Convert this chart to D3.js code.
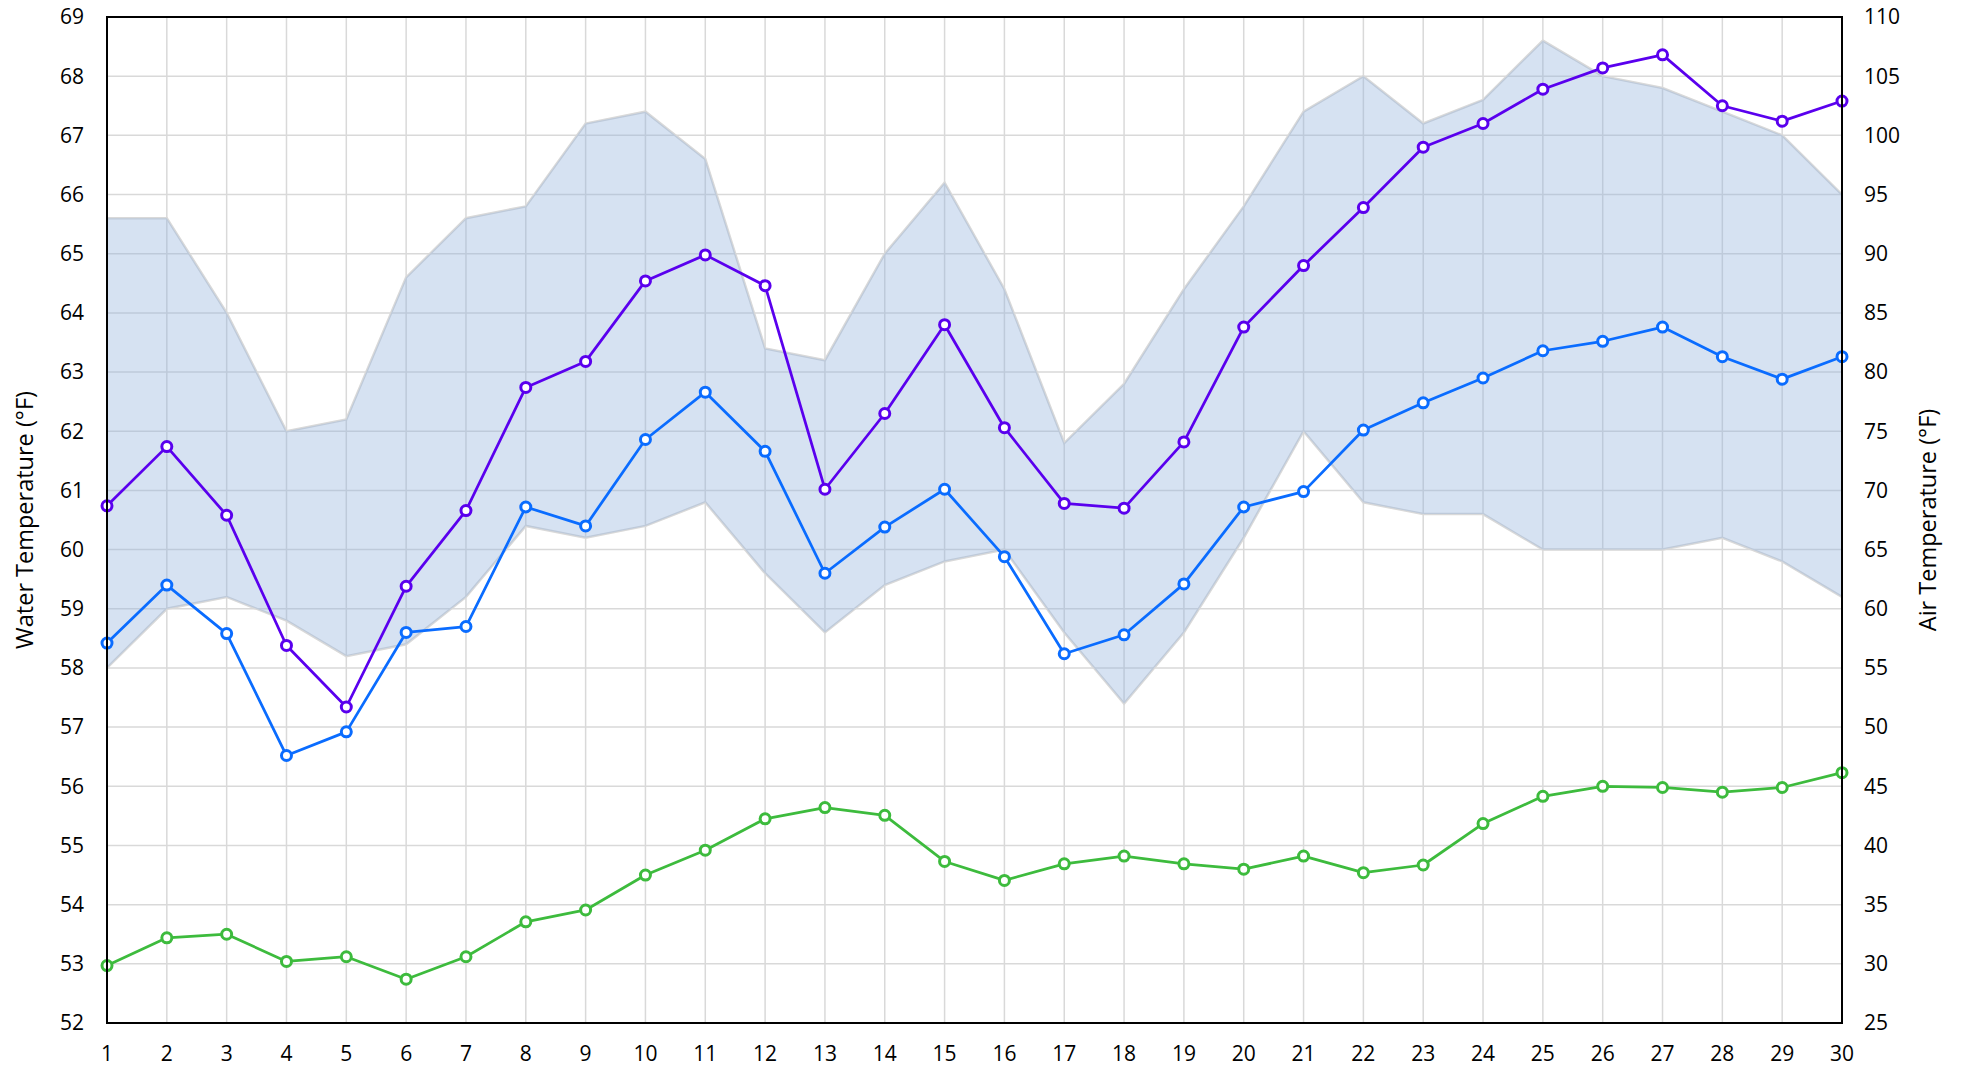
<!DOCTYPE html>
<html>
<head>
<meta charset="utf-8">
<script src="https://cdn.jsdelivr.net/npm/d3@7"></script>
<style>
  html, body { margin: 0; padding: 0; background: #fff; }
  svg text { font-family: "Open Sans", "Noto Sans", sans-serif; fill: #000; }
</style>
</head>
<body>
<div id="chart"></div>
<script>
// day of month
const days = d3.range(1, 31)

// water temperature (left axis, °F)
const waterTemp = [52.97, 53.44, 53.50, 53.04, 53.12, 52.74, 53.12, 53.71, 53.91, 54.50,
  54.92, 55.45, 55.64, 55.51, 54.73, 54.41, 54.69, 54.82, 54.69, 54.60,
  54.82, 54.54, 54.67, 55.37, 55.83, 56.00, 55.98, 55.90, 55.98, 56.23]

// air temperature series (right axis, °F)
const airHigh = [68.7, 73.7, 67.9, 56.9, 51.7, 61.9, 68.3, 78.7, 80.9, 87.7,
  89.9, 87.3, 70.1, 76.5, 84.0, 75.3, 68.9, 68.5, 74.1, 83.8,
  89.0, 93.9, 99.0, 101.0, 103.9, 105.7, 106.8, 102.5, 101.2, 102.9]
const airLow = [57.1, 62.0, 57.9, 47.6, 49.6, 58.0, 58.5, 68.6, 67.0, 74.3,
  78.3, 73.3, 63.0, 66.9, 70.1, 64.4, 56.2, 57.8, 62.1, 68.6,
  69.9, 75.1, 77.4, 79.5, 81.8, 82.6, 83.8, 81.3, 79.4, 81.3]
const rangeMax = [93, 93, 85, 75, 76, 88, 93, 94, 101, 102,
  98, 82, 81, 90, 96, 87, 74, 79, 87, 94,
  102, 105, 101, 103, 108, 105, 104, 102, 100, 95]
const rangeMin = [55, 60, 61, 59, 56, 57, 61, 67, 66, 67,
  69, 63, 58, 62, 64, 65, 58, 52, 58, 66,
  75, 69, 68, 68, 65, 65, 65, 66, 64, 61]

const leftTicks = d3.range(52, 70)
const rightTicks = d3.range(25, 111, 5)

const width = 1963, height = 1067
const margin = { top: 17, right: 121, bottom: 44, left: 107 }
const innerW = width - margin.left - margin.right
const innerH = height - margin.top - margin.bottom

const x = d3.scaleLinear().domain([1, 30]).range([0, innerW])
const yL = d3.scaleLinear().domain([52, 69]).range([innerH, 0])
const yR = d3.scaleLinear().domain([25, 110]).range([innerH, 0])

const svg = d3.select('#chart').append('svg')
  .attr('width', width)
  .attr('height', height)

const g = svg.append('g')
  .attr('transform', `translate(${margin.left},${margin.top})`)

// grid
g.append('g').selectAll('line')
  .data(days)
  .join('line')
  .attr('x1', d => x(d)).attr('x2', d => x(d))
  .attr('y1', 0).attr('y2', innerH)
  .attr('stroke', '#d9d9d9').attr('stroke-width', 1.5)

g.append('g').selectAll('line')
  .data(leftTicks)
  .join('line')
  .attr('x1', 0).attr('x2', innerW)
  .attr('y1', d => yL(d)).attr('y2', d => yL(d))
  .attr('stroke', '#d9d9d9').attr('stroke-width', 1.5)

// air temperature range band
const band = days.map((d, i) => ({ day: d, lo: rangeMin[i], hi: rangeMax[i] }))

const edge = (key) => d3.line().x(d => x(d.day)).y(d => yR(d[key]))
;['hi', 'lo'].forEach(k => {
  g.append('path')
    .datum(band)
    .attr('fill', 'none')
    .attr('stroke', '#d9d9d9')
    .attr('stroke-width', 2.5)
    .attr('d', edge(k))
})

g.append('path')
  .datum(band)
  .attr('fill', 'rgb(144,177,220)')
  .attr('fill-opacity', 0.37)
  .attr('d', d3.area().x(d => x(d.day)).y0(d => yR(d.lo)).y1(d => yR(d.hi)))

// series lines with markers
const series = [
  { values: airHigh, scale: yR, color: '#5a00ee' },
  { values: airLow, scale: yR, color: '#0a6cff' },
  { values: waterTemp, scale: yL, color: '#3dbb3d' }
]

series.forEach(s => {
  const pts = days.map((d, i) => ({ day: d, v: s.values[i] }))
  g.append('path')
    .datum(pts)
    .attr('fill', 'none')
    .attr('stroke', s.color)
    .attr('stroke-width', 2.75)
    .attr('stroke-linejoin', 'round')
    .attr('d', d3.line().x(d => x(d.day)).y(d => s.scale(d.v)))

  g.append('g').selectAll('circle')
    .data(pts)
    .join('circle')
    .attr('cx', d => x(d.day))
    .attr('cy', d => s.scale(d.v))
    .attr('r', 5)
    .attr('fill', '#fff')
    .attr('stroke', s.color)
    .attr('stroke-width', 3)
})

// frame
g.append('rect')
  .attr('width', innerW).attr('height', innerH)
  .attr('fill', 'none')
  .attr('stroke', '#000').attr('stroke-width', 2)

// tick labels
g.append('g').selectAll('text')
  .data(leftTicks)
  .join('text')
  .attr('x', -23).attr('y', d => yL(d))
  .attr('dy', '0.35em')
  .attr('text-anchor', 'end')
  .attr('font-size', 21)
  .text(d => d)

g.append('g').selectAll('text')
  .data(rightTicks)
  .join('text')
  .attr('x', innerW + 22).attr('y', d => yR(d))
  .attr('dy', '0.35em')
  .attr('text-anchor', 'start')
  .attr('font-size', 21)
  .text(d => d)

g.append('g').selectAll('text')
  .data(days)
  .join('text')
  .attr('x', d => x(d)).attr('y', innerH + 31)
  .attr('dy', '0.35em')
  .attr('text-anchor', 'middle')
  .attr('font-size', 21)
  .text(d => d)

// axis titles
svg.append('text')
  .attr('transform', `translate(25,${margin.top + innerH / 2}) rotate(-90)`)
  .attr('dy', '0.35em')
  .attr('text-anchor', 'middle')
  .attr('font-size', 23.5)
  .text('Water Temperature (°F)')

svg.append('text')
  .attr('transform', `translate(1928,${margin.top + innerH / 2}) rotate(-90)`)
  .attr('dy', '0.35em')
  .attr('text-anchor', 'middle')
  .attr('font-size', 23.5)
  .text('Air Temperature (°F)')
</script>
</body>
</html>
